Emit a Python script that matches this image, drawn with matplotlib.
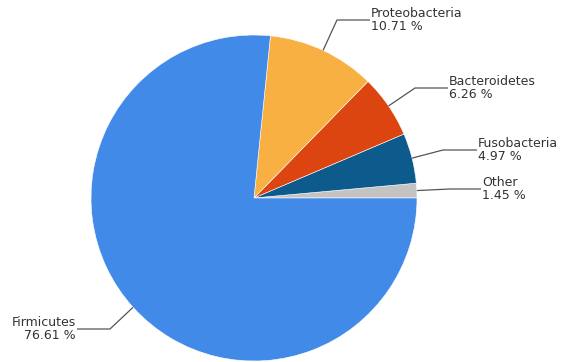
import numpy as np
import matplotlib
matplotlib.use("Agg")
import matplotlib.pyplot as plt

categories = ["Other", "Fusobacteria", "Bacteroidetes", "Proteobacteria", "Firmicutes"]
shares = [1.45, 4.97, 6.26, 10.71, 76.61]
colors = ["#c3c3c3", "#0d5a8c", "#dc4510", "#f8b042", "#428ae8"]

W, H = 561, 362
fig = plt.figure(figsize=(W / 100, H / 100), dpi=100)
ax = fig.add_axes([0, 0, 1, 1])
ax.set_xlim(0, W)
ax.set_ylim(0, H)
ax.set_aspect("equal")
ax.axis("off")

cx, cy, r = 254, H - 198, 163
wedges, _ = ax.pie(shares, colors=colors, startangle=0, counterclock=True,
                   center=(cx, cy), radius=r, frame=True,
                   wedgeprops=dict(edgecolor="white", linewidth=0.4))
ax.set_xlim(0, W)
ax.set_ylim(0, H)
ax.axis("off")

# leader layout: (elbow x, elbow y, end x, text side)
layout = {
    "Proteobacteria": (337, 20, 370, "left"),
    "Bacteroidetes": (415, 88, 448, "left"),
    "Fusobacteria": (443, 150, 477, "left"),
    "Other": (450, 189, 481, "left"),
    "Firmicutes": (110, 329, 77, "right"),
}

for w, name, v in zip(wedges, categories, shares):
    mid = np.deg2rad((w.theta1 + w.theta2) / 2)
    ax0 = cx + r * np.cos(mid)
    ay0 = cy + r * np.sin(mid)
    ex, ey, tx, side = layout[name]
    ey = H - ey
    ax.plot([ax0, ex, tx], [ay0, ey, ey], color="#555555", lw=0.9,
            solid_capstyle="butt")
    xo = tx + 1 if side == "left" else tx - 1
    ax.text(xo, ey, f"{name}\n{v:.2f} %", ha=side, va="center",
            fontsize=9, color="#333333", linespacing=0.95,
            multialignment=side, family="DejaVu Sans")

fig.savefig("out.png", dpi=100, facecolor="white")
